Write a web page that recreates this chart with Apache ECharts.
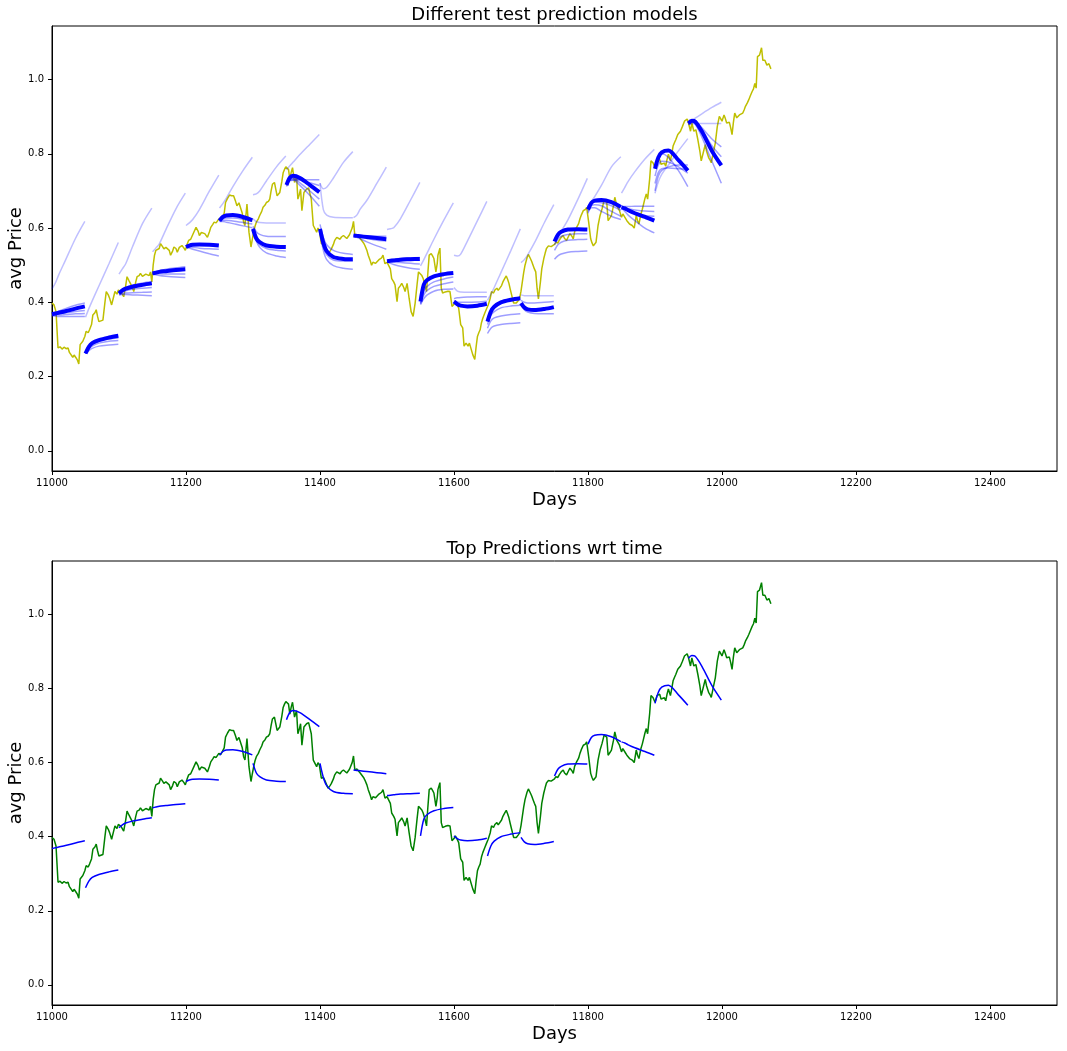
<!DOCTYPE html>
<html>
<head>
<meta charset="utf-8">
<script src="https://cdn.jsdelivr.net/npm/echarts@6/dist/echarts.min.js"></script>
<style>
html,body{margin:0;padding:0;background:#fff;}
#chart{width:1067px;height:1051px;}
</style>
</head>
<body>
<div id="chart"></div>
<script>
// ---------- DATA ----------
const priceDays = [
11000,11003,11006,11009,11012,11015,11018,11021,11024,11026,11031,11033,11036,11038,11040,11042,11046,11049,11051,11054,11056,11059,11061,11064,11066,11068,11070,11073,11076,11079,11081,11084,11086,11089,11092,11094,11097,11099,11103,11107,11110,11112,11115,11117,11120,11122,11125,11127,11130,11132,11135,11137,11140,11142,11145,11147,11149,11151,11153,11155,11157,11160,11162,11165,11167,11170,11172,11175,11177,11180,11182,11185,11187,11190,11194,11197,11199,11202,11204,11207,11209,11212,11215,11218,11220,11223,11225,11228,11232,11235,11237,11240,11242,11245,11247,11249,11252,11254,11257,11259,11262,11265,
11268,11271,11274,11276,11279,11281,11284,11286,11288,11291,11294,11297,11299,11301,11303,11305,11308,11310,11313,11315,11318,11320,11323,11325,11327,11329,11332,11334,11336,11338,11340,11343,11345,11347,11349,11351,11353,11355,11357,11359,11362,11365,11367,11369,11371,11373,11376,11378,11380,11383,11385,11387,11390,11392,11395,11397,11399,11402,11405,11407,11410,11412,11415,11417,11420,11422,11425,11427,11430,11432,11435,11437,11440,11442,11444,11446,11448,11450,11452,11455,11457,11460,11462,11465,11467,11470,11472,11475,11477,11479,11481,11483,11485,11488,11490,11492,11494,11497,11500,11502,11505,11507,11510,11512,11515,11517,11520,11522,11525,11527,11530,11533,11536,11539,11542,11545,11547,11549,
11552,11554,11557,11559,11561,11563,11566,11568,11570,11573,11575,11576,11579,11581,11583,11585,11587,11589,11591,11594,11597,11600,11602,11605,11607,11610,11613,11615,11618,11621,11623,11625,11628,11631,11633,11635,11637,11639,11641,11643,11646,11648,11651,11654,11656,11659,11661,11664,11666,11668,11671,11673,11676,11678,11680,11682,11684,11686,11689,11691,11693,11696,11698,11700,11702,11704,11706,11709,11711,11714,11716,11718,11720,11722,11724,11726,11729,11731,11734,11736,11738,11741,11743,11745,11747,11750,11752,11755,11757,11760,11763,11765,11768,11771,11773,11776,11778,11780,11783,11786,11788,11790,11793,11796,11798,11801,11804,11806,11808,11810,11812,11815,11818,
11821,11824,11826,11828,11830,11833,11835,11838,11840,11843,11845,11847,11850,11852,11854,11856,11858,11860,11862,11864,11866,11869,11872,11874,11876,11879,11881,11883,11885,11887,11889,11892,11894,11897,11900,11903,11905,11907,11909,11911,11914,11916,11918,11920,11923,11925,11927,11929,11931,11934,11936,11938,11941,11944,11946,11948,11950,11953,11955,11958,11961,11964,11967,11969,11972,11975,11977,11980,11982,11984,11987,11990,11993,11996,11998,12000,12003,12005,12007,12009,12011,12013,12015,12017,12019,12022,12024,12026,12028,12031,12033,12035,12038,12040,12042,12045,12047,12049,12051,12053,12056,12059,12061,12064,12067,12070,12073
];
const priceValues = [
0.398,0.393,0.375,0.277,0.280,0.274,0.279,0.275,0.277,0.265,0.252,0.258,0.250,0.244,0.234,0.286,0.295,0.308,0.322,0.318,0.326,0.340,0.366,0.372,0.380,0.362,0.348,0.350,0.352,0.400,0.429,0.420,0.411,0.393,0.415,0.429,0.422,0.433,0.428,0.415,0.445,0.469,0.458,0.451,0.440,0.429,0.455,0.469,0.472,0.478,0.470,0.469,0.476,0.478,0.472,0.482,0.455,0.500,0.527,0.540,0.535,0.545,0.558,0.550,0.544,0.548,0.553,0.540,0.527,0.538,0.549,0.545,0.535,0.548,0.553,0.546,0.540,0.558,0.567,0.570,0.575,0.590,0.602,0.592,0.580,0.588,0.593,0.585,0.575,0.590,0.602,0.610,0.616,0.614,0.611,0.625,0.622,0.620,0.640,0.669,0.680,0.689,
0.687,0.687,0.672,0.660,0.668,0.665,0.640,0.616,0.607,0.665,0.589,0.549,0.570,0.589,0.605,0.616,0.625,0.634,0.645,0.656,0.662,0.669,0.672,0.678,0.700,0.718,0.723,0.705,0.687,0.692,0.696,0.725,0.749,0.758,0.765,0.762,0.758,0.731,0.750,0.763,0.723,0.740,0.678,0.690,0.705,0.647,0.696,0.700,0.705,0.708,0.709,0.678,0.607,0.611,0.589,0.600,0.594,0.558,0.560,0.553,0.540,0.531,0.538,0.544,0.556,0.567,0.575,0.580,0.570,0.576,0.580,0.585,0.572,0.576,0.582,0.585,0.600,0.618,0.580,0.583,0.580,0.572,0.567,0.560,0.553,0.540,0.527,0.512,0.500,0.508,0.513,0.505,0.509,0.515,0.513,0.520,0.527,0.504,0.508,0.513,0.490,0.464,0.455,0.447,0.402,0.438,0.445,0.451,0.440,0.429,0.451,0.411,0.375,0.362,0.398,0.450,0.482,0.482,
0.472,0.464,0.445,0.429,0.480,0.527,0.531,0.525,0.518,0.482,0.505,0.527,0.546,0.438,0.425,0.420,0.428,0.433,0.430,0.429,0.389,0.395,0.402,0.392,0.384,0.340,0.331,0.282,0.290,0.282,0.290,0.286,0.259,0.246,0.280,0.308,0.318,0.326,0.345,0.357,0.371,0.380,0.393,0.410,0.429,0.425,0.433,0.438,0.432,0.429,0.445,0.455,0.465,0.471,0.462,0.451,0.435,0.420,0.398,0.402,0.398,0.405,0.411,0.430,0.455,0.480,0.500,0.520,0.529,0.518,0.510,0.500,0.490,0.482,0.438,0.409,0.455,0.490,0.518,0.532,0.545,0.552,0.555,0.550,0.549,0.556,0.562,0.560,0.567,0.575,0.580,0.572,0.567,0.578,0.585,0.578,0.571,0.590,0.602,0.612,0.625,0.635,0.647,0.650,0.656,0.616,0.571,0.560,0.552,0.555,0.562,0.607,0.634,
0.652,0.674,0.672,0.669,0.620,0.628,0.634,0.660,0.683,0.660,0.655,0.647,0.629,0.638,0.634,0.626,0.620,0.615,0.611,0.614,0.607,0.600,0.634,0.620,0.611,0.638,0.650,0.665,0.680,0.692,0.678,0.732,0.781,0.776,0.763,0.781,0.786,0.785,0.772,0.767,0.775,0.767,0.785,0.799,0.781,0.800,0.821,0.830,0.838,0.852,0.856,0.861,0.874,0.888,0.885,0.894,0.883,0.861,0.883,0.861,0.865,0.838,0.807,0.781,0.803,0.825,0.807,0.790,0.784,0.776,0.803,0.829,0.874,0.901,0.895,0.888,0.905,0.895,0.883,0.888,0.885,0.870,0.852,0.885,0.910,0.897,0.902,0.905,0.900,0.910,0.918,0.928,0.938,0.946,0.955,0.968,0.975,0.990,0.977,1.062,1.066,1.086,1.052,1.052,1.039,1.043,1.029
];

const windowStarts = [11000,11050,11100,11150,11200,11250,11300,11350,11400,11450,11500,11550,11600,11650,11700,11750,11800,11850,11900,11950];
const predOffsets = [0,5,10,20,35,49];

const topPredValues = [
[0.368,0.370,0.372,0.376,0.383,0.389],
[0.262,0.280,0.290,0.298,0.305,0.310],
[0.424,0.432,0.437,0.442,0.447,0.451],
[0.478,0.480,0.482,0.484,0.487,0.489],
[0.549,0.553,0.555,0.556,0.555,0.553],
[0.620,0.630,0.634,0.635,0.630,0.621],
[0.598,0.572,0.562,0.553,0.550,0.549],
[0.716,0.736,0.741,0.735,0.716,0.697],
[0.598,0.560,0.538,0.522,0.517,0.516],
[0.580,0.579,0.578,0.576,0.573,0.570],
[0.511,0.512,0.513,0.515,0.516,0.517],
[0.402,0.448,0.460,0.470,0.476,0.479],
[0.402,0.395,0.391,0.389,0.391,0.396],
[0.348,0.375,0.388,0.400,0.407,0.411],
[0.398,0.386,0.381,0.379,0.382,0.387],
[0.564,0.582,0.590,0.596,0.597,0.596],
[0.650,0.668,0.674,0.676,0.670,0.657],
[0.656,0.653,0.648,0.640,0.630,0.620],
[0.760,0.790,0.804,0.809,0.783,0.755],
[0.882,0.889,0.887,0.860,0.808,0.769]
];

const risingPredValues = [
[0.436,0.452,0.474,0.513,0.572,0.618],
[0.360,0.383,0.404,0.444,0.504,0.561],
[0.476,0.490,0.504,0.549,0.612,0.654],
[0.536,0.546,0.557,0.596,0.652,0.694],
[0.607,0.614,0.623,0.650,0.700,0.743],
[0.654,0.666,0.680,0.712,0.755,0.791],
[0.690,0.692,0.700,0.727,0.765,0.794],
[0.757,0.768,0.778,0.798,0.826,0.852],
[0.721,0.706,0.710,0.735,0.777,0.806],
[0.628,0.635,0.651,0.675,0.721,0.764],
[0.596,0.598,0.601,0.625,0.675,0.723],
[0.498,0.515,0.533,0.570,0.622,0.668],
[0.527,0.525,0.530,0.565,0.620,0.672],
[0.405,0.422,0.440,0.480,0.540,0.598],
[0.507,0.515,0.528,0.560,0.615,0.663],
[0.570,0.580,0.592,0.622,0.678,0.734],
[0.659,0.672,0.685,0.715,0.765,0.792],
[0.694,0.710,0.726,0.752,0.786,0.812],
[0.694,0.725,0.745,0.770,0.808,0.841],
[0.882,0.889,0.896,0.908,0.925,0.939]
];

const flatPredValues = [
[],[],[],[],[],[],
[[0.625,0.617,0.615,0.614,0.614,0.614]],
[],
[[0.721,0.650,0.635,0.629,0.628,0.628]],
[],[],[],
[[0.440,0.430,0.428,0.427,0.427,0.427]],
[],
[[0.420,0.418,0.418,0.418,0.418,0.418]],
[],[],[],[],
[[0.880,0.881,0.881,0.882,0.882,0.882]]
];

const fanPredValues = [
[[0.368,0.372,0.376,0.383,0.392,0.398],[0.368,0.369,0.370,0.372,0.375,0.378],[0.366,0.366,0.366,0.367,0.369,0.370],[0.364,0.363,0.362,0.362,0.362,0.362]],
[[0.262,0.270,0.276,0.282,0.285,0.287],[0.262,0.274,0.282,0.290,0.295,0.297],[0.262,0.278,0.287,0.295,0.301,0.304]],
[[0.420,0.421,0.421,0.420,0.419,0.418],[0.422,0.424,0.425,0.426,0.427,0.428],[0.423,0.428,0.431,0.435,0.438,0.440],[0.424,0.434,0.440,0.446,0.452,0.456]],
[[0.476,0.474,0.472,0.470,0.468,0.467],[0.477,0.477,0.477,0.476,0.476,0.476],[0.478,0.482,0.485,0.489,0.493,0.496]],
[[0.548,0.546,0.543,0.538,0.531,0.525],[0.549,0.549,0.548,0.546,0.544,0.543],[0.550,0.554,0.556,0.557,0.557,0.556]],
[[0.618,0.618,0.616,0.612,0.606,0.601],[0.619,0.621,0.621,0.619,0.615,0.611],[0.620,0.625,0.627,0.627,0.624,0.618]],
[[0.605,0.590,0.583,0.578,0.577,0.577],[0.600,0.570,0.555,0.545,0.540,0.538],[0.598,0.565,0.548,0.533,0.525,0.521]],
[[0.725,0.728,0.729,0.730,0.730,0.730],[0.720,0.732,0.734,0.730,0.722,0.715],[0.714,0.730,0.733,0.722,0.700,0.678],[0.712,0.728,0.730,0.715,0.688,0.659]],
[[0.610,0.575,0.555,0.540,0.532,0.529],[0.595,0.550,0.528,0.514,0.511,0.511],[0.590,0.540,0.515,0.499,0.492,0.489]],
[[0.582,0.581,0.580,0.579,0.578,0.578],[0.580,0.578,0.576,0.572,0.567,0.565],[0.579,0.575,0.571,0.563,0.552,0.543]],
[[0.512,0.514,0.516,0.518,0.520,0.521],[0.510,0.509,0.508,0.507,0.505,0.503],[0.509,0.505,0.502,0.497,0.492,0.489]],
[[0.398,0.430,0.443,0.455,0.463,0.468],[0.396,0.420,0.432,0.443,0.450,0.455],[0.394,0.410,0.420,0.430,0.435,0.436]],
[[0.410,0.412,0.413,0.414,0.415,0.415],[0.405,0.401,0.400,0.400,0.401,0.403]],
[[0.340,0.365,0.375,0.385,0.390,0.392],[0.330,0.350,0.358,0.363,0.367,0.369],[0.316,0.330,0.336,0.340,0.343,0.345]],
[[0.405,0.400,0.398,0.398,0.400,0.402],[0.395,0.380,0.374,0.370,0.369,0.369]],
[[0.555,0.570,0.578,0.583,0.585,0.585],[0.540,0.555,0.562,0.567,0.569,0.570],[0.516,0.525,0.530,0.535,0.537,0.538]],
[[0.648,0.665,0.670,0.668,0.660,0.648],[0.645,0.660,0.663,0.660,0.645,0.632],[0.640,0.655,0.655,0.645,0.632,0.623]],
[[0.658,0.658,0.658,0.659,0.659,0.659],[0.656,0.654,0.652,0.649,0.646,0.645],[0.655,0.651,0.646,0.640,0.634,0.632],[0.654,0.645,0.635,0.620,0.600,0.587]],
[[0.700,0.740,0.755,0.765,0.770,0.770],[0.720,0.750,0.760,0.762,0.760,0.758],[0.740,0.770,0.780,0.778,0.765,0.748],[0.760,0.790,0.800,0.790,0.755,0.712]],
[[0.880,0.888,0.887,0.870,0.840,0.819],[0.881,0.888,0.886,0.865,0.822,0.792],[0.878,0.885,0.880,0.845,0.780,0.721]]
];

const xTicks = [11000,11200,11400,11600,11800,12000,12200,12400];
const yTicks = [0,0.2,0.4,0.6,0.8,1.0];
const titles = ['Different test prediction models','Top Predictions wrt time'];
const xName = 'Days';
const yName = 'avg Price';

// ---------- CHART ----------
const FONT = 'DejaVu Sans';
const chart = echarts.init(document.getElementById('chart'), null, {renderer:'canvas'});

function mkX(gi){
  return {
    type:'value', gridIndex:gi, min:11000, max:12500,
    name:xName, nameLocation:'middle', nameGap:20, nameMoveOverlap:false,
    nameTextStyle:{fontFamily:FONT,fontSize:18,color:'#000'},
    axisLine:{show:true,onZero:false,lineStyle:{color:'#000',width:1}},
    axisTick:{show:true,length:4,lineStyle:{color:'#000'},customValues:xTicks},
    axisLabel:{fontFamily:FONT,fontSize:10,color:'#000',margin:7,customValues:xTicks,
      formatter:v=>String(Math.round(v))},
    splitLine:{show:false}
  };
}
function mkY(gi){
  return {
    type:'value', gridIndex:gi, min:-0.0545, max:1.1445,
    name:yName, nameLocation:'middle', nameGap:27, nameMoveOverlap:false,
    nameTextStyle:{fontFamily:FONT,fontSize:18,color:'#000'},
    axisLine:{show:true,onZero:false,lineStyle:{color:'#000',width:1}},
    axisTick:{show:true,length:4,lineStyle:{color:'#000'},customValues:yTicks},
    axisLabel:{fontFamily:FONT,fontSize:10,color:'#000',margin:8,customValues:yTicks,
      formatter:v=>Number(v).toFixed(1)},
    splitLine:{show:false}
  };
}

function predData(start, vals){
  return predOffsets.map((o,i)=>[start+o, vals[i]]);
}
function lineSeries(gi, data, color, width, z, smooth){
  return {type:'line', xAxisIndex:gi, yAxisIndex:gi, data:data, showSymbol:false, symbol:'none',
    smooth:smooth, lineStyle:{color:color,width:width}, z:z, silent:true, animation:false};
}

const priceData = priceDays.map((d,i)=>[d, priceValues[i]]);
const series = [];
// top subplot
series.push(lineSeries(0, priceData, '#bfbf00', 1.5, 2, false));
windowStarts.forEach((s,w)=>{
  series.push(lineSeries(0, predData(s, risingPredValues[w]), 'rgba(0,0,255,0.25)', 1.5, 3, 0.3));
  flatPredValues[w].forEach(v=>series.push(lineSeries(0, predData(s, v), 'rgba(0,0,255,0.25)', 1.5, 3, 0.3)));
  fanPredValues[w].forEach(v=>series.push(lineSeries(0, predData(s, v), 'rgba(0,0,255,0.38)', 1.5, 3, 0.3)));
  series.push(lineSeries(0, predData(s, topPredValues[w]), '#0000ff', 4, 4, 0.3));
});
// bottom subplot
series.push(lineSeries(1, priceData, '#008000', 1.5, 2, false));
windowStarts.forEach((s,w)=>{
  series.push(lineSeries(1, predData(s, topPredValues[w]), '#0000ff', 1.5, 4, 0.3));
});

chart.setOption({
  animation:false,
  backgroundColor:'#fff',
  grid:[
    {left:52, top:26, width:1005, height:445, show:true, borderColor:'#000', borderWidth:1, backgroundColor:'#fff', containLabel:false, outerBoundsMode:'none'},
    {left:52, top:561, width:1005, height:444, show:true, borderColor:'#000', borderWidth:1, backgroundColor:'#fff', containLabel:false, outerBoundsMode:'none'}
  ],
  xAxis:[mkX(0), mkX(1)],
  yAxis:[mkY(0), mkY(1)],
  graphic:[
    {type:'text', x:554.5, y:15, style:{text:titles[0], font:'18px "DejaVu Sans"', fill:'#000', textAlign:'center', textVerticalAlign:'middle'}},
    {type:'text', x:554.5, y:549, style:{text:titles[1], font:'18px "DejaVu Sans"', fill:'#000', textAlign:'center', textVerticalAlign:'middle'}}
  ],
  series:series
});
</script>
</body>
</html>
